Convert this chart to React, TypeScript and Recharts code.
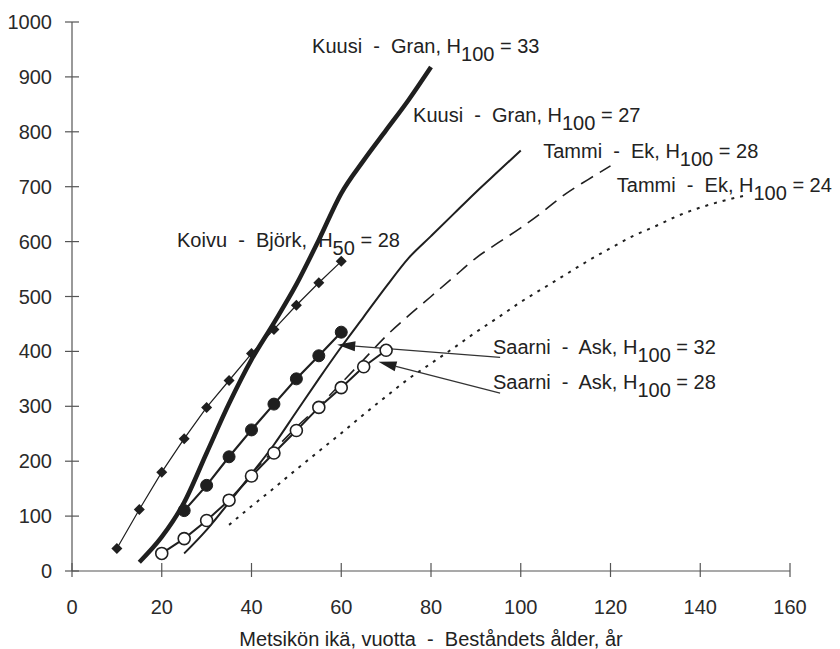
import React from "react";
import {
  LineChart,
  Line,
  XAxis,
  YAxis,
  ReferenceDot,
  ReferenceLine,
} from "recharts";

// Kuusi - Gran, H100 = 33 (thick solid)
const kuusi33Ages = [15, 20, 25, 30, 35, 40, 45, 50, 55, 60, 65, 70, 75, 80];
const kuusi33Vols = [16, 62, 125, 215, 305, 385, 452, 522, 603, 688, 748, 803, 858, 918];

// Kuusi - Gran, H100 = 27 (solid)
const kuusi27Ages = [25, 30, 35, 40, 45, 50, 55, 60, 65, 70, 75, 80, 85, 90, 95, 100];
const kuusi27Vols = [32, 75, 125, 177, 230, 290, 350, 408, 463, 518, 570, 610, 650, 690, 728, 766];

// Tammi - Ek, H100 = 28 (dashed)
const tammi28Ages = [40, 45, 50, 55, 60, 65, 70, 75, 80, 85, 90, 95, 100, 105, 110, 115, 120];
const tammi28Vols = [178, 220, 262, 300, 342, 385, 428, 465, 500, 535, 570, 598, 625, 655, 687, 713, 738];

// Tammi - Ek, H100 = 24 (dotted)
const tammi24Ages = [35, 40, 45, 50, 55, 60, 65, 70, 75, 80, 85, 90, 95, 100, 105, 110, 115, 120, 125, 130, 135, 140, 145, 150];
const tammi24Vols = [84, 118, 151, 185, 218, 251, 285, 318, 350, 378, 406, 435, 462, 490, 515, 540, 565, 588, 610, 628, 647, 662, 674, 684];

// Koivu - Björk, H50 = 28 (diamonds)
const koivuAges = [10, 15, 20, 25, 30, 35, 40, 45, 50, 55, 60];
const koivuVols = [41, 112, 180, 241, 298, 347, 396, 440, 484, 525, 564];

// Saarni - Ask, H100 = 32 (filled circles)
const saarni32Ages = [25, 30, 35, 40, 45, 50, 55, 60];
const saarni32Vols = [110, 156, 208, 257, 304, 350, 392, 435];

// Saarni - Ask, H100 = 28 (open circles)
const saarni28Ages = [20, 25, 30, 35, 40, 45, 50, 55, 60, 65, 70];
const saarni28Vols = [32, 59, 92, 129, 173, 215, 256, 298, 334, 372, 402];

const xTicks = [0, 20, 40, 60, 80, 100, 120, 140, 160];
const yTicks = [0, 100, 200, 300, 400, 500, 600, 700, 800, 900, 1000];

const xTitle = "Metsikön ikä, vuotta  -  Beståndets ålder, år";

// label text pieces: [before subscript, subscript, after], anchor in data units
const seriesLabels = [
  { pre: "Kuusi  -  Gran, H", sub: "100", post: " = 33", x: 53.5, y: 943 },
  { pre: "Kuusi  -  Gran, H", sub: "100", post: " = 27", x: 76, y: 817 },
  { pre: "Tammi  -  Ek, H", sub: "100", post: " = 28", x: 105, y: 753 },
  { pre: "Tammi  -  Ek, H", sub: "100", post: " = 24", x: 121.4, y: 690 },
  { pre: "Koivu  -  Björk,  H", sub: "50", post: " = 28", x: 23.4, y: 591 },
  { pre: "Saarni  -  Ask, H", sub: "100", post: " = 32", x: 93.8, y: 395 },
  { pre: "Saarni  -  Ask, H", sub: "100", post: " = 28", x: 93.8, y: 331 },
];

// pointer lines from the Saarni labels
const pointers = [
  { from: { x: 95.4, y: 389 }, to: { x: 59.1, y: 412 } },
  { from: { x: 95.4, y: 324 }, to: { x: 68.3, y: 381 } },
];

const toPoints = (ages: number[], vols: number[]) =>
  ages.map((a, i) => ({ age: a, vol: vols[i] }));

const INK = "#1f1f1f";
const FONT = "'Liberation Sans', Arial, sans-serif";
const FS = 20;

const YTick = (props: any) => {
  const { x, y, payload } = props;
  const ax = x + 20;
  return (
    <g>
      <line x1={ax - 7} x2={ax + 7} y1={y} y2={y} stroke="#555" strokeWidth={1.2} />
      <text x={x} y={y + 7} textAnchor="end" fontSize={FS} fill="#2a2a2a" fontFamily={FONT}>
        {payload.value}
      </text>
    </g>
  );
};

const XTick = (props: any) => {
  const { x, y, payload } = props;
  return (
    <g>
      <line x1={x} x2={x} y1={y - 8} y2={y + 6} stroke="#555" strokeWidth={1.2} />
      <text x={x} y={y + 43} textAnchor="middle" fontSize={FS} fill="#2a2a2a" fontFamily={FONT}>
        {payload.value}
      </text>
    </g>
  );
};

const Diamond = (props: any) => {
  const { cx, cy } = props;
  if (cx == null || cy == null) return null;
  const r = 5.5;
  return (
    <polygon
      points={`${cx},${cy - r} ${cx + r},${cy} ${cx},${cy + r} ${cx - r},${cy}`}
      fill={INK}
    />
  );
};

const Arrow = (props: any) => {
  const { x1, y1, x2, y2 } = props;
  if ([x1, y1, x2, y2].some((v) => v == null)) return null;
  const ang = Math.atan2(y2 - y1, x2 - x1);
  const len = 18;
  const half = 5;
  const bx = x2 - len * Math.cos(ang);
  const by = y2 - len * Math.sin(ang);
  const px = -Math.sin(ang) * half;
  const py = Math.cos(ang) * half;
  return (
    <g>
      <line x1={x1} y1={y1} x2={bx} y2={by} stroke="#333" strokeWidth={1.2} />
      <polygon points={`${x2},${y2} ${bx + px},${by + py} ${bx - px},${by - py}`} fill={INK} />
    </g>
  );
};

const SeriesLabel = ({ cx, cy, pre, sub, post }: any) => (
  <text
    x={cx}
    y={cy}
    fontSize={FS}
    fill="#222"
    fontFamily={FONT}
    style={{ whiteSpace: "pre" }}
  >
    {pre}
    <tspan dy={8}>{sub}</tspan>
    <tspan dy={-8}>{post}</tspan>
  </text>
);

export default function App() {
  return (
    <div style={{ position: "absolute", left: 0, top: 0, background: "#fff" }}>
      <LineChart
        width={840}
        height={649}
        margin={{ top: 22, right: 50, bottom: 48, left: 12 }}
      >
        <XAxis
          dataKey="age"
          type="number"
          domain={[0, 160]}
          ticks={xTicks}
          allowDataOverflow
          tickLine={false}
          tickSize={0}
          tickMargin={0}
          tick={<XTick />}
          axisLine={{ stroke: "#555", strokeWidth: 1.2 }}
          label={(p: any) => {
            const vb = p.viewBox;
            return (
              <text
                x={vb.x + vb.width / 2}
                y={vb.y + 75}
                textAnchor="middle"
                fontSize={FS}
                fill="#222"
                fontFamily={FONT}
                style={{ whiteSpace: "pre" }}
              >
                {xTitle}
              </text>
            );
          }}
        />
        <YAxis
          type="number"
          domain={[0, 1000]}
          ticks={yTicks}
          width={60}
          tickLine={false}
          tickSize={0}
          tickMargin={20}
          tick={<YTick />}
          axisLine={{ stroke: "#555", strokeWidth: 1.2 }}
        />

        <Line
          data={toPoints(tammi24Ages, tammi24Vols)}
          dataKey="vol"
          type="monotone"
          stroke={INK}
          strokeWidth={2}
          strokeDasharray="3 6"
          dot={false}
          isAnimationActive={false}
        />
        <Line
          data={toPoints(tammi28Ages, tammi28Vols)}
          dataKey="vol"
          type="monotone"
          stroke={INK}
          strokeWidth={1.6}
          strokeDasharray="14 8"
          dot={false}
          isAnimationActive={false}
        />
        <Line
          data={toPoints(kuusi27Ages, kuusi27Vols)}
          dataKey="vol"
          type="monotone"
          stroke={INK}
          strokeWidth={2}
          dot={false}
          isAnimationActive={false}
        />
        <Line
          data={toPoints(kuusi33Ages, kuusi33Vols)}
          dataKey="vol"
          type="monotone"
          stroke={INK}
          strokeWidth={4.5}
          dot={false}
          isAnimationActive={false}
        />
        <Line
          data={toPoints(koivuAges, koivuVols)}
          dataKey="vol"
          type="linear"
          stroke={INK}
          strokeWidth={1.2}
          dot={<Diamond />}
          isAnimationActive={false}
        />
        <Line
          data={toPoints(saarni32Ages, saarni32Vols)}
          dataKey="vol"
          type="linear"
          stroke={INK}
          strokeWidth={2.2}
          dot={{ r: 6, fill: INK, stroke: INK, strokeWidth: 1 }}
          isAnimationActive={false}
        />
        <Line
          data={toPoints(saarni28Ages, saarni28Vols)}
          dataKey="vol"
          type="linear"
          stroke={INK}
          strokeWidth={2}
          dot={{ r: 6, fill: "#fff", stroke: INK, strokeWidth: 1.6 }}
          isAnimationActive={false}
        />

        {pointers.map((p, i) => (
          <ReferenceLine
            key={`ptr-${i}`}
            segment={[p.from, p.to]}
            shape={(sp: any) => <Arrow {...sp} />}
          />
        ))}

        {seriesLabels.map((l, i) => (
          <ReferenceDot
            key={`lbl-${i}`}
            x={l.x}
            y={l.y}
            r={0}
            shape={(sp: any) => <SeriesLabel {...sp} pre={l.pre} sub={l.sub} post={l.post} />}
          />
        ))}
      </LineChart>
    </div>
  );
}
